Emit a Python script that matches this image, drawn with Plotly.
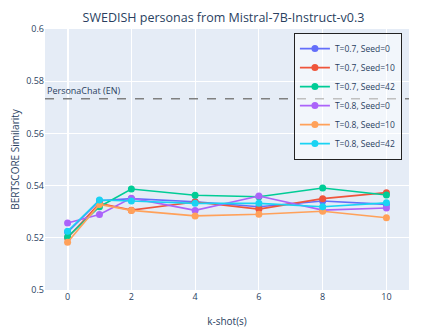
import plotly.graph_objects as go

k_shots = [0, 1, 2, 4, 6, 8, 10]
series_names = ["T=0.7, Seed=0", "T=0.7, Seed=10", "T=0.7, Seed=42",
                "T=0.8, Seed=0", "T=0.8, Seed=10", "T=0.8, Seed=42"]
t07_seed0 = [0.5222, 0.5342, 0.5350, 0.5338, 0.5319, 0.5341, 0.5328]
t07_seed10 = [0.5200, 0.5332, 0.5306, 0.5337, 0.5310, 0.5350, 0.5373]
t07_seed42 = [0.5203, 0.5319, 0.5387, 0.5363, 0.5357, 0.5391, 0.5364]
t08_seed0 = [0.5257, 0.5289, 0.5352, 0.5305, 0.5360, 0.5306, 0.5314]
t08_seed10 = [0.5183, 0.5328, 0.5305, 0.5284, 0.5290, 0.5302, 0.5277]
t08_seed42 = [0.5225, 0.5345, 0.5341, 0.5332, 0.5332, 0.5319, 0.5334]
baseline_value = 0.5733
baseline_label = "PersonaChat (EN)"

colors = ["#636EFA", "#EF553B", "#00CC96", "#AB63FA", "#FFA15A", "#19D3F3"]
all_series = [t07_seed0, t07_seed10, t07_seed42, t08_seed0, t08_seed10, t08_seed42]

fig = go.Figure()
for name, vals, c in zip(series_names, all_series, colors):
    fig.add_trace(go.Scatter(x=k_shots, y=vals, mode="lines+markers", name=name,
                             line=dict(color=c, width=1.6), marker=dict(color=c, size=7)))

fig.add_hline(y=baseline_value, line=dict(color="gray", dash="dash", width=1.5))
fig.add_annotation(x=0, xref="paper", y=baseline_value, yref="y", text=baseline_label,
                   showarrow=False, xanchor="left", yanchor="bottom",
                   font=dict(size=9, color="#2a3f5f"))

fig.update_layout(
    width=431, height=321,
    template="plotly",
    font=dict(size=9, color="#2a3f5f"),
    title=dict(text="SWEDISH personas from Mistral-7B-Instruct-v0.3", x=0.5, xanchor="center",
               y=0.969, yanchor="middle", font=dict(size=12.5)),
    margin=dict(l=37, r=30, t=21, b=39),
    xaxis=dict(title=dict(text="k-shot(s)", font=dict(size=10)), tickmode="array",
               tickvals=[0, 2, 4, 6, 8, 10], tickfont=dict(size=9), automargin=False),
    yaxis=dict(title=dict(text="BERTSCORE Similarity", font=dict(size=10)), range=[0.5, 0.6],
               dtick=0.02, tickfont=dict(size=9), automargin=False),
    legend=dict(x=0.98, y=0.985, xanchor="right", yanchor="top",
                bgcolor="rgba(255,255,255,0.5)", bordercolor="#222", borderwidth=1.2,
                font=dict(size=8.5)),
)

fig.write_html("out.html")
